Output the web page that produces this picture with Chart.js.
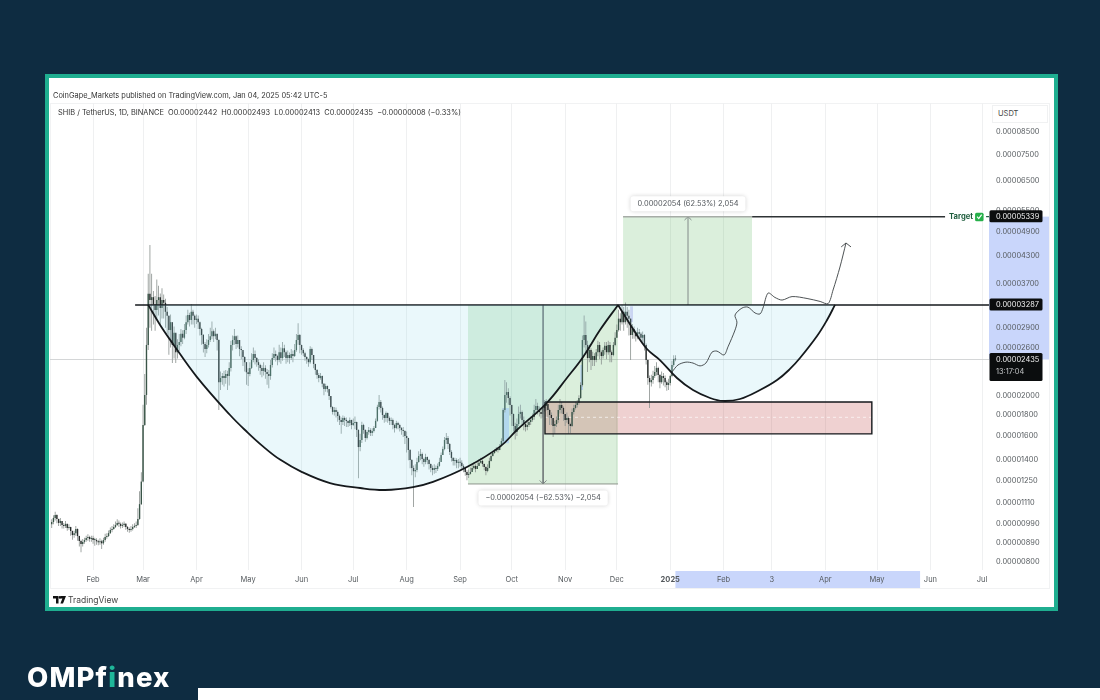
<!DOCTYPE html>
<html>
<head>
<meta charset="utf-8">
<title>SHIB / TetherUS</title>
<script src="https://cdn.jsdelivr.net/npm/chart.js@4"></script>
<style>
html, body { margin: 0; padding: 0; width: 1100px; height: 700px; overflow: hidden; background: #0e2c41; font-family: Inter, sans-serif; }
#frame { position: absolute; left: 45px; top: 74px; width: 1005px; height: 529px; border: 4px solid #1fae90; background: #fff; }
#box { position: absolute; left: 50px; top: 103px; width: 998px; height: 484px; border: 1px solid #f1f2f3; }
#usdt { position: absolute; left: 992px; top: 105px; width: 49px; height: 16px; padding-left: 5px; line-height: 16px; border: 1px solid #f0f1f2; font-size: 7.5px; color: #444; background: #fff; }
canvas { position: absolute; left: 0; top: 0; }
.txt { position: absolute; white-space: pre; color: #333; }
#published { left: 53px; top: 91px; font-size: 7.4px; line-height: 10px; }
#legend { left: 58px; top: 108px; font-size: 7.4px; line-height: 10px; }
#tv { left: 68px; top: 595px; font-size: 8.5px; line-height: 11px; color: #444; }
#tvlogo { position: absolute; left: 53px; top: 596px; }
#brand { left: 27px; top: 658px; font-size: 27.5px; line-height: 38px; font-weight: 800; color: #fff; letter-spacing: 1.15px; }
#brand span { color: #1fb79a; }
#strip { position: absolute; left: 198px; top: 688px; width: 902px; height: 12px; background: #fff; }
</style>
</head>
<body>
<div id="frame"></div>
<div id="box"></div>
<canvas id="shibChart" width="1100" height="700"></canvas>
<div id="usdt">USDT</div>
<div class="txt" id="published">CoinGape_Markets published on TradingView.com, Jan 04, 2025 05:42 UTC-5</div>
<div class="txt" id="legend">SHIB / TetherUS, 1D, BINANCE  O0.00002442  H0.00002493  L0.00002413  C0.00002435  −0.00000008 (−0.33%)</div>
<svg id="tvlogo" width="13" height="8" viewBox="0 0 13 8"><path d="M0 0h5.5v7.5H3V2.5H0z M8 0h5l-3 7.5H7.4L9.4 2.5H8z" fill="#111"/><circle cx="7" cy="1.4" r="1.3" fill="#111"/></svg>
<div class="txt" id="tv">TradingView</div>
<div class="txt" id="brand">OMPf<span>i</span>nex</div>
<div id="strip"></div>
<script>
// prices are in units of 0.00000001 USDT, x values are days since 2024-01-01
const firstCandleDay = 7;

const closes = [
    997,1020,1036,1014,992,1003,981,976,987,965,970,949,928,938,960,923,898,884,894,903,913,918,908,913,
    903,903,897,892,897,887,903,918,923,938,954,960,970,981,992,987,976,981,987,970,960,954,960,970,976,981,1014,1100,1245,
    1699,2004,2638,3495,3376,3430,3293,3197,3376,3430,3230,3376,3325,3165,3095,2863,2990,2638,2820,2535,2638,2680,2805,2745,2863,2990,3110,3025,3165,3095,3025,
    3048,2990,2880,2786,2653,2580,2638,2711,2768,2845,2768,2805,2711,2150,2200,2225,2200,2250,2225,2325,2638,2711,2768,2653,2711,2580,2565,2470,2400,2270,
    2248,2325,2428,2510,2455,2400,2363,2325,2287,2325,2274,2248,2224,2363,2455,2510,2482,2428,2535,2455,2590,2535,2455,2496,2455,2510,2482,2565,2711,2786,2638,
    2565,2522,2470,2440,2400,2580,2496,2376,2299,2236,2200,2224,2130,2070,2105,2070,1993,1877,1826,1846,1826,1786,1747,1728,1766,1747,1737,1718,1747,1699,
    1718,1728,1653,1505,1565,1699,1653,1582,1635,1653,1626,1645,1671,1738,1877,1928,1866,1795,1766,1816,1766,1738,1747,1699,1671,1718,1699,1671,1653,1645,1600,
    1582,1481,1402,1342,1318,1327,1387,1433,1449,1410,1387,1425,1402,1372,1342,1327,1342,1335,1357,1387,1441,1489,1565,1582,1530,1465,1418,1395,1402,1380,1387,
    1380,1357,1342,1313,1291,1299,1313,1342,1357,1335,1357,1380,1395,1372,1349,1320,1342,1395,1433,1457,1473,1489,1481,1514,1556,1846,2004,2036,1971,1897,
    1805,1690,1635,1708,1805,1826,1747,1708,1680,1699,1728,1747,1776,1846,1887,1846,1826,1805,1866,1887,1907,1846,1795,1766,1690,1708,1747,1846,1897,1866,1805,
    1747,1766,1708,1690,1826,1866,1897,1920,1971,2117,2711,2786,2638,2455,2565,2428,2482,2428,2535,2638,2535,2482,2565,2625,2535,2638,2535,2496,2638,2745,
    2863,3048,2990,3165,2990,3165,3095,3048,2786,2880,2828,2768,2828,2805,2745,2786,2638,2428,2200,2150,2175,2224,2274,2325,2236,2150,2224,2200,2150,2117,2140,
    2224,2363,2442,2435
];
const highs = [
    1012,1035,1055,1040,1015,1020,1000,992,1002,985,985,972,952,950,975,962,925,905,908,915,925,932,925,925,
    925,915,912,905,912,905,915,935,938,952,968,975,985,1000,1012,1005,995,995,1000,990,975,968,975,985,990,1000,1075,1180,1310,
    1900,2250,2900,3900,4569,3900,3550,3450,3780,3650,3500,3600,3480,3400,3250,3100,3120,2950,2920,2800,2720,2800,2880,2860,2960,3100,3200,3150,3300,3200,3120,
    3120,3100,3000,2900,2800,2680,2720,2800,2900,3000,2870,2900,2800,2720,2280,2260,2290,2300,2290,2400,2700,2780,2880,2780,2780,2700,2620,2540,2480,2400,
    2320,2400,2520,2600,2560,2470,2440,2380,2360,2400,2360,2310,2300,2430,2520,2600,2560,2500,2640,2600,2680,2640,2560,2560,2530,2580,2560,2650,2800,2970,2800,
    2640,2590,2540,2480,2450,2620,2600,2490,2380,2310,2260,2260,2230,2140,2130,2110,2060,1990,1880,1875,1870,1840,1800,1770,1790,1780,1770,1745,1770,1750,
    1760,1780,1730,1660,1620,1730,1710,1660,1650,1680,1670,1670,1690,1760,1900,2004,1950,1880,1800,1830,1820,1780,1770,1760,1710,1740,1730,1710,1680,1680,1650,
    1640,1585,1490,1410,1360,1370,1420,1470,1490,1460,1420,1450,1430,1410,1375,1360,1370,1360,1375,1420,1460,1510,1590,1625,1600,1540,1480,1425,1420,1415,1410,
    1420,1400,1370,1350,1325,1330,1345,1370,1385,1370,1385,1410,1420,1405,1375,1355,1370,1420,1450,1475,1490,1505,1500,1530,1580,1860,2175,2150,2080,1990,
    1900,1810,1720,1760,1880,1900,1840,1780,1730,1730,1760,1780,1810,1900,1960,1920,1880,1860,1910,1950,1960,1900,1860,1820,1770,1740,1780,1900,1960,1930,1880,
    1800,1820,1780,1720,1860,1900,1930,1950,2000,2150,2780,3100,3000,2700,2640,2590,2540,2520,2580,2700,2680,2560,2600,2680,2680,2700,2680,2560,2680,2830,
    2950,3200,3140,3290,3250,3330,3250,3200,3050,2960,2920,2860,2900,2880,2830,2840,2800,2660,2440,2230,2240,2290,2350,2400,2340,2250,2280,2260,2230,2170,2190,
    2240,2420,2493,2493
];
const lows = [
    965,985,1005,990,975,975,962,962,965,950,955,925,905,915,925,900,872,845,872,885,895,900,895,895,
    885,875,880,878,880,860,880,895,910,918,935,942,955,965,975,970,962,965,970,955,945,940,945,952,965,965,975,1010,1095,
    1240,1690,1900,2565,2900,2850,2950,2850,3050,3100,2950,3050,3050,2900,2800,2500,2600,2390,2450,2390,2450,2550,2620,2650,2720,2800,2950,2920,2950,2950,2900,
    2960,2880,2780,2640,2530,2470,2520,2600,2680,2720,2680,2720,2560,1846,2060,2120,2100,2130,2060,2110,2280,2560,2640,2580,2600,2480,2440,2350,2280,2120,
    2104,2220,2310,2400,2370,2340,2290,2240,2210,2230,2190,2120,2080,2180,2330,2430,2410,2360,2400,2380,2420,2470,2380,2400,2380,2430,2400,2470,2540,2640,2520,
    2500,2480,2420,2380,2340,2380,2430,2320,2240,2190,2150,2180,2090,2000,2040,2030,1950,1860,1800,1790,1770,1730,1700,1620,1700,1690,1680,1680,1690,1660,
    1690,1660,1590,1268,1470,1540,1620,1550,1570,1610,1600,1600,1630,1680,1730,1850,1820,1750,1720,1730,1720,1700,1700,1660,1630,1660,1660,1640,1610,1590,1530,
    1460,1400,1340,1290,1083,1275,1310,1380,1400,1370,1350,1370,1370,1330,1310,1290,1300,1305,1320,1350,1400,1440,1480,1530,1490,1440,1390,1360,1360,1340,1340,
    1350,1330,1310,1285,1255,1270,1295,1325,1330,1310,1335,1360,1375,1350,1325,1290,1310,1340,1390,1430,1450,1465,1460,1480,1510,1530,1820,1920,1900,1790,
    1690,1640,1570,1600,1690,1760,1690,1650,1640,1650,1680,1700,1730,1750,1820,1800,1780,1760,1770,1830,1840,1770,1700,1700,1590,1620,1680,1720,1810,1810,1740,
    1690,1720,1620,1625,1680,1800,1850,1870,1900,1960,2100,2600,2500,2275,2400,2300,2350,2350,2400,2480,2440,2370,2450,2500,2440,2500,2400,2400,2480,2620,
    2745,2840,2850,2950,2850,2950,2900,2780,2430,2730,2730,2690,2720,2720,2680,2680,2560,2370,2120,1866,2100,2130,2200,2230,2150,2080,2130,2110,2090,2050,2060,
    2110,2210,2340,2413
];
const opens = [985].concat(closes.slice(0, -1));

const monthDays = [31, 60, 91, 121, 152, 182, 213, 244, 274, 305, 335, 366, 397, 425, 456, 486, 517, 547];
const monthLabels = ['Feb', 'Mar', 'Apr', 'May', 'Jun', 'Jul', 'Aug', 'Sep', 'Oct', 'Nov', 'Dec', '2025', 'Feb', '3', 'Apr', 'May', 'Jun', 'Jul'];
const priceTicks = [8500, 7500, 6500, 5500, 4900, 4300, 3700, 2900, 2600, 2000, 1800, 1600, 1400, 1250, 1110, 990, 890, 800];

const neckline = 3287;
const target = 5339;
const lastPrice = 2435;

const cupLeftDays = [63, 69.9, 77.4, 91.3, 110.5, 120.4, 129.6, 139.5, 152.3, 168.5, 186, 200.5, 216.7, 228.3, 248, 267.2, 277, 294.4, 306, 315.4, 325.2, 335.7];
const cupLeftPrices = [3287, 2944, 2653, 2211, 1795, 1635, 1511, 1405, 1312, 1235, 1202, 1189, 1208, 1243, 1349, 1509, 1653, 1920, 2200, 2470, 2863, 3287];
const cupRightDays = [335.7, 344.4, 352.5, 360, 369.9, 379.2, 389.1, 396.6, 406.5, 418.1, 428, 435.5, 441.3, 451.2, 457, 461.6];
const cupRightPrices = [3287, 2880, 2580, 2428, 2200, 2059, 1971, 1939, 1960, 2059, 2175, 2312, 2455, 2771, 3025, 3287];
const pathDays = [367, 370.5, 375.1, 379.2, 383.3, 386.7, 390.2, 393.1, 397.2, 399.5, 403.6, 404.7, 403.6, 407.6, 411.1, 415.2, 418.1, 419.8, 422.8, 426.8, 430.9, 436.7, 445.4, 453, 457.6, 460.5, 464.5, 468];
const pathPrices = [2274, 2363, 2400, 2388, 2351, 2388, 2535, 2550, 2496, 2610, 2863, 2990, 3110, 3230, 3247, 3145, 3128, 3230, 3508, 3424, 3376, 3441, 3405, 3350, 3310, 3568, 4048, 4619];
const pathHeadDays = [465.2, 468, 470.9];
const pathHeadPrices = [4520, 4619, 4520];

const downZoneDays = [248.6, 335.7];
const downZonePrices = [3287, 1229];
const upZoneDays = [338.6, 413.5];
const upZonePrices = [5339, 3287];
const supportDays = [293.3, 483];
const supportPrices = [1928, 1618];
const supportMid = 1773;
const downArrowDay = 292.2;
const upArrowDay = 376.3;
const targetLineEnd = 525.5;
const neckStart = 55.4;
const axisStart = 6;
const axisEnd = 551;
const futureBandDays = [369, 511];

const candleDays = closes.map((c, i) => firstCandleDay + i);

function pairs(xs, ys) {
    return xs.map((x, i) => ({ x: x, y: ys[i] }));
}

function lineSet(data, color, width, order, extra) {
    return Object.assign({ type: 'line', data: data, borderColor: color, borderWidth: width, pointRadius: 0, fill: false, order: order }, extra);
}

function band(days, prices, color, order) {
    return lineSet(pairs(days, [prices[0], prices[0]]), 'transparent', 0, order, { fill: { value: prices[1] }, backgroundColor: color });
}

const datasets = [
    // highlighted stretches inside the candles
    band([268.5, 272.5], [1866, 1538], '#b9d6ee', 8),
    band([313.7, 315.4], [2363, 2059], '#b9d6ee', 8),
    band([342.7, 344.4], [3262, 2990], '#d8d4f4', 8),
    // candles
    { type: 'bar', data: candleDays.map((d, i) => ({ x: d, y: [lows[i], highs[i]] })), grouped: false, barPercentage: 0.6, backgroundColor: '#8d9491', order: 7 },
    { type: 'bar', data: candleDays.map((d, i) => ({ x: d, y: [opens[i], closes[i]] })), grouped: false, barPercentage: 1, minBarLength: 1,
      backgroundColor: candleDays.map((d, i) => closes[i] >= opens[i] ? '#3a5548' : '#272b2b'), order: 6 },
    // zones and cups
    lineSet(pairs(cupLeftDays, cupLeftPrices), '#15191c', 1.8, 1, { tension: 0.4, fill: { value: neckline }, backgroundColor: 'rgba(150,220,235,0.2)' }),
    lineSet(pairs(cupRightDays, cupRightPrices), '#15191c', 1.8, 1, { tension: 0.4, fill: { value: neckline }, backgroundColor: 'rgba(150,220,235,0.2)' }),
    band(downZoneDays, downZonePrices, 'rgba(76,175,80,0.2)', 11),
    band(upZoneDays, upZonePrices, 'rgba(76,175,80,0.2)', 11),
    band(supportDays, supportPrices, 'rgba(190,70,70,0.25)', 10),
    lineSet(pairs([supportDays[0], supportDays[1], supportDays[1], supportDays[0], supportDays[0]], [supportPrices[0], supportPrices[0], supportPrices[1], supportPrices[1], supportPrices[0]]), '#15191c', 1.4, 3),
    lineSet(pairs(supportDays, [supportMid, supportMid]), 'rgba(255,255,255,0.8)', 0.8, 9, { borderDash: [3, 3] }),
    // level lines
    lineSet(pairs([axisStart, axisEnd], [lastPrice, lastPrice]), '#c9cccd', 0.8, 12),
    lineSet(pairs([neckStart, axisEnd], [neckline, neckline]), '#15191c', 1.5, 2),
    lineSet(pairs(upZoneDays, [target, target]), '#a6aca6', 1.5, 4),
    lineSet(pairs([upZoneDays[1], targetLineEnd], [target, target]), '#2e3335', 1.5, 4),
    lineSet(pairs(downZoneDays, [downZonePrices[1], downZonePrices[1]]), '#8d958c', 1, 4),
    // measure arrows
    lineSet(pairs([downArrowDay, downArrowDay], [neckline, downZonePrices[1]]), '#6a7073', 0.8, 4),
    lineSet(pairs([downArrowDay - 2, downArrowDay, downArrowDay + 2], [1253, downZonePrices[1], 1253]), '#6a7073', 0.8, 4),
    lineSet(pairs([upArrowDay, upArrowDay], [neckline, target]), '#6a7073', 0.8, 4),
    lineSet(pairs([upArrowDay - 2, upArrowDay, upArrowDay + 2], [5240, target, 5240]), '#6a7073', 0.8, 4),
    // projected path
    lineSet(pairs(pathDays, pathPrices), '#3a3f42', 0.9, 0, { tension: 0.3 }),
    lineSet(pairs(pathHeadDays, pathHeadPrices), '#3a3f42', 0.9, 0)
];

function roundBox(ctx, x, y, w, h, r, fill, shadow) {
    ctx.save();
    if (shadow) {
        ctx.shadowColor = 'rgba(0,0,0,0.18)';
        ctx.shadowBlur = 4;
    }
    ctx.fillStyle = fill;
    ctx.beginPath();
    ctx.roundRect(x, y, w, h, r);
    ctx.fill();
    ctx.restore();
}

function pricePill(ctx, yScale, right, price, second) {
    const y = yScale.getPixelForValue(price);
    const text = (price / 1e8).toFixed(8);
    const h = second ? 28 : 12;
    roundBox(ctx, right + 0.5, y - 6.5, 53, h, 1.5, '#0b0d0e');
    ctx.fillStyle = '#f4f4f4';
    ctx.fillText(text, right + 7, y);
    if (second) {
        ctx.fillStyle = '#c4c6c8';
        ctx.fillText(second, right + 7, y + 12);
    }
}

function callout(ctx, cx, cy, text) {
    const w = ctx.measureText(text).width + 14;
    roundBox(ctx, cx - w / 2, cy - 7.5, w, 15, 3, '#fff', true);
    ctx.fillStyle = '#50555a';
    ctx.textAlign = 'center';
    ctx.fillText(text, cx, cy);
    ctx.textAlign = 'left';
}

const chartExtras = {
    id: 'chartExtras',
    beforeDraw(chart) {
        const ctx = chart.ctx, area = chart.chartArea;
        const xs = chart.scales.x, ys = chart.scales.y;
        ctx.save();
        ctx.fillStyle = '#c9d6fb';
        ctx.fillRect(area.right, ys.getPixelForValue(target), 60, ys.getPixelForValue(lastPrice) - ys.getPixelForValue(target));
        const x1 = xs.getPixelForValue(futureBandDays[0]), x2 = xs.getPixelForValue(futureBandDays[1]);
        ctx.fillRect(x1, area.bottom + 1, x2 - x1, 17);
        ctx.restore();
    },
    afterDraw(chart) {
        const ctx = chart.ctx, area = chart.chartArea;
        const xs = chart.scales.x, ys = chart.scales.y;
        ctx.save();
        ctx.font = '7.4px Inter';
        ctx.textBaseline = 'middle';
        ctx.textAlign = 'left';
        pricePill(ctx, ys, area.right, target);
        pricePill(ctx, ys, area.right, neckline);
        pricePill(ctx, ys, area.right, lastPrice, '13:17:04');
        callout(ctx, xs.getPixelForValue(upArrowDay), ys.getPixelForValue(target) - 13, '0.00002054 (62.53%) 2,054');
        callout(ctx, xs.getPixelForValue(downArrowDay), ys.getPixelForValue(downZonePrices[1]) + 14, '\u22120.00002054 (\u221262.53%) \u22122,054');
        const ty = ys.getPixelForValue(target);
        const tx = xs.getPixelForValue(targetLineEnd);
        ctx.font = 'bold 7.6px Inter';
        ctx.fillStyle = '#1d5c3c';
        ctx.fillText('Target', tx + 4, ty);
        roundBox(ctx, tx + 30, ty - 4, 8.5, 8.5, 1.5, '#27b04a');
        ctx.strokeStyle = '#fff';
        ctx.lineWidth = 1.2;
        ctx.beginPath();
        ctx.moveTo(tx + 32, ty);
        ctx.lineTo(tx + 33.7, ty + 2);
        ctx.lineTo(tx + 36.6, ty - 2);
        ctx.stroke();
        ctx.strokeStyle = '#1d5c3c';
        ctx.beginPath();
        ctx.moveTo(tx + 41, ty);
        ctx.lineTo(area.right, ty);
        ctx.stroke();
        ctx.restore();
    }
};

const ctx = document.getElementById('shibChart').getContext('2d');
const shibChart = new Chart(ctx, {
    type: 'line',
    data: { datasets: datasets },
    plugins: [chartExtras],
    options: {
        responsive: false,
        animation: false,
        events: [],
        layout: { padding: { left: 50, top: 103, right: 50, bottom: 112 } },
        plugins: { legend: { display: false }, tooltip: { enabled: false } },
        scales: {
            x: {
                type: 'linear',
                min: axisStart,
                max: axisEnd,
                offset: false,
                afterBuildTicks: scale => { scale.ticks = monthDays.map(d => ({ value: d })); },
                afterFit: scale => { scale.height = 18; },
                border: { display: false },
                grid: { color: '#eff0f1', lineWidth: 1, drawTicks: false, offset: false },
                ticks: {
                    autoSkip: false,
                    maxRotation: 0,
                    padding: 5,
                    color: '#555a5e',
                    font: ctx => ({ family: 'Inter', size: 7.5, weight: ctx.tick && ctx.tick.value === 366 ? 'bold' : 'normal' }),
                    callback: value => monthLabels[monthDays.indexOf(value)]
                }
            },
            y: {
                type: 'logarithmic',
                position: 'right',
                min: 766,
                max: 9968,
                afterBuildTicks: scale => { scale.ticks = priceTicks.map(p => ({ value: p })); },
                afterFit: scale => { scale.width = 61; },
                border: { display: false },
                grid: { display: false, drawTicks: false },
                ticks: {
                    autoSkip: false,
                    padding: 7,
                    color: '#555a5e',
                    font: { family: 'Inter', size: 7.4 },
                    callback: value => (value / 1e8).toFixed(8)
                }
            }
        }
    }
});
</script>
</body>
</html>
